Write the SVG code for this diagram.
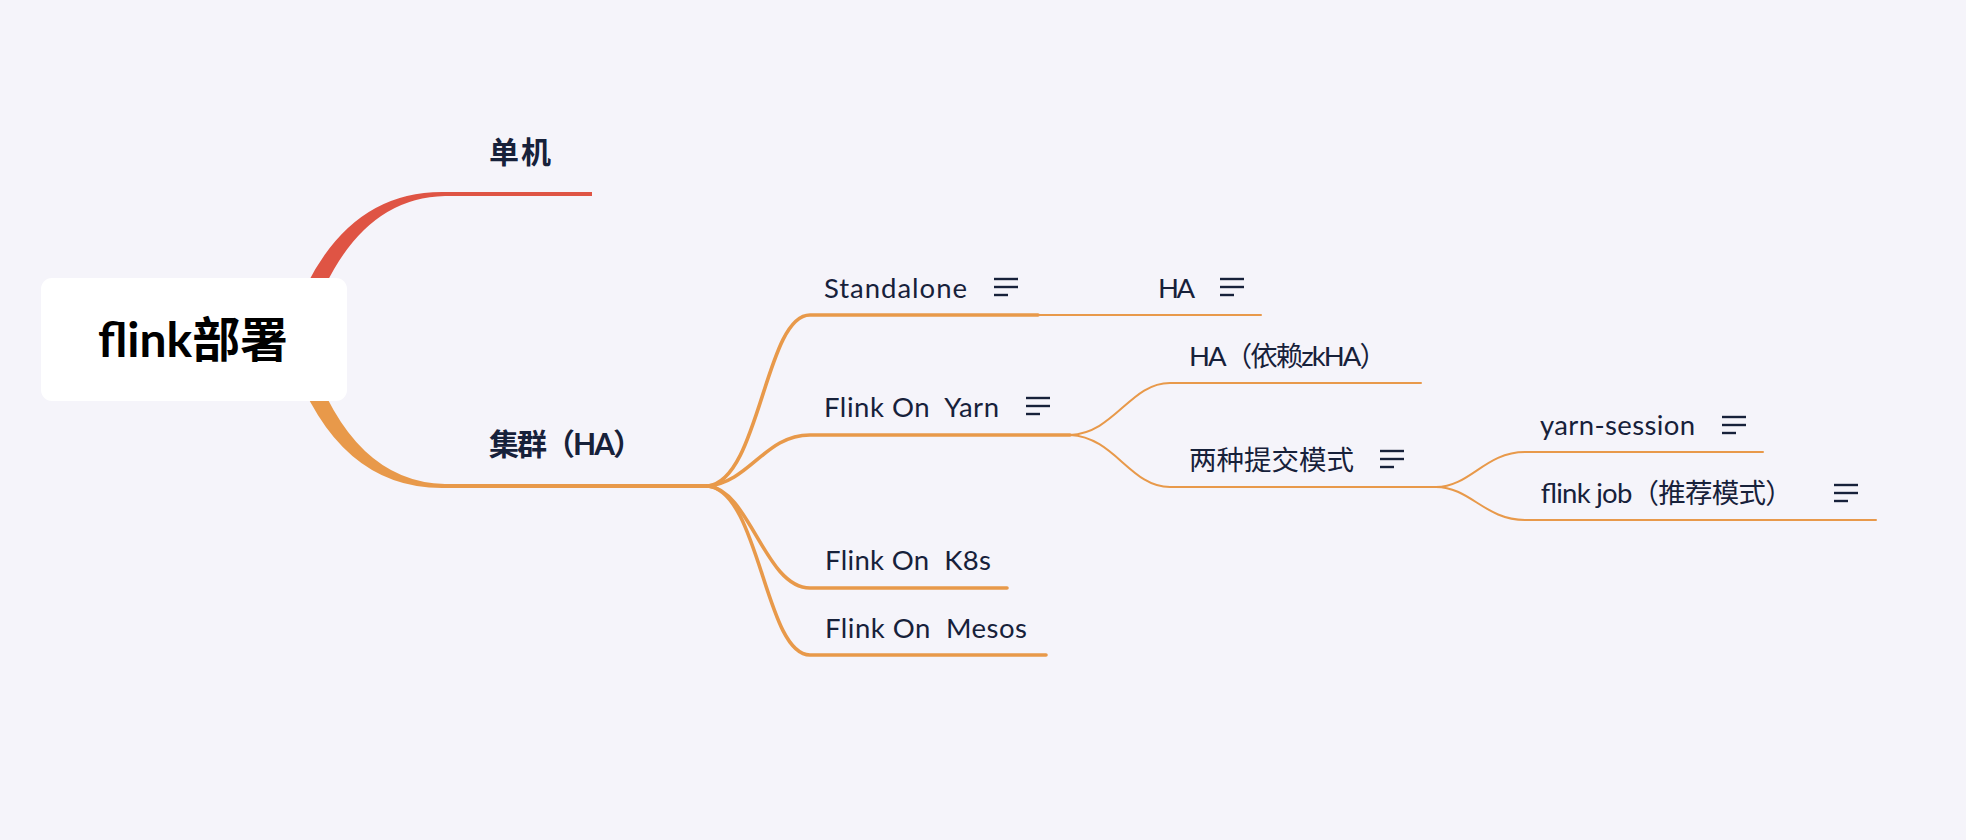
<svg xmlns="http://www.w3.org/2000/svg" width="1966" height="840" viewBox="0 0 1966 840">
<style>
.t{font-family:"Lato","Noto Sans CJK SC",sans-serif;font-size:27.5px;fill:#17213a;white-space:pre}
.m{font-family:"Lato","Noto Sans CJK SC",sans-serif;font-size:30px;font-weight:700;fill:#17213a;white-space:pre}
.r{font-family:"Lato","Noto Sans CJK SC",sans-serif;font-size:48px;font-weight:700;fill:#000}
.c2{fill:none;stroke:#E8994A;stroke-width:3.6;stroke-linecap:round}
.c3{fill:none;stroke:#E8994A;stroke-width:2;stroke-linecap:round}
.ic{stroke:#17213a;stroke-width:2.4}
</style>
<defs>
<g id="note">
<line class="ic" x1="0" y1="0" x2="24" y2="0"/>
<line class="ic" x1="0" y1="8" x2="24" y2="8"/>
<line class="ic" x1="0" y1="16" x2="14" y2="16"/>
</g>
</defs>
<rect width="1966" height="840" fill="#F5F4FA"/>
<g id="connectors">
<path d="M 291 322 Q 338 190 445 192 L 592 192 L 592 196 L 445 196 Q 352 198 309 326 Z" fill="#DF5444"/>
<path d="M 291 358 Q 338 490 445 488 L 708 488 L 708 484 L 445 484 Q 352 482 309 354 Z" fill="#E8994A"/>
<path class="c2" d="M 708 486 C 760 480 765 315 810 315 L 1038 315"/>
<path class="c2" d="M 708 486 C 750 482 765 435 810 435 L 1070 435"/>
<path class="c2" d="M 708 486 C 750 490 765 588 810 588 L 1007 588"/>
<path class="c2" d="M 708 486 C 760 492 765 655 810 655 L 1046 655"/>
<path class="c3" d="M 1038 315 L 1261 315"/>
<path class="c3" d="M 1070 435 C 1115 433 1130 383 1170 383 L 1421 383"/>
<path class="c3" d="M 1070 435 C 1115 437 1130 487 1170 487 L 1436 487"/>
<path class="c3" d="M 1436 487 C 1470 487 1485 452 1525 452 L 1763 452"/>
<path class="c3" d="M 1436 487 C 1470 487 1485 520 1525 520 L 1876 520"/>
</g>
<g id="root">
<rect x="41" y="278" width="306" height="123" rx="11" fill="#FFFFFF"/>
<text class="r" x="98" y="357" textLength="190" lengthAdjust="spacingAndGlyphs">flink部署</text>
</g>
<g id="n-standalone-machine">
<text class="m" x="489" y="163" textLength="62">单机</text>
</g>
<g id="n-cluster">
<text class="m" x="489" y="455" textLength="154">集群（HA）</text>
</g>
<g id="n-standalone">
<text class="t" x="824" y="298" textLength="143">Standalone</text>
<use href="#note" x="994" y="279"/>
</g>
<g id="n-standalone-ha">
<text class="t" x="1158" y="298" textLength="37">HA</text>
<use href="#note" x="1220" y="279"/>
</g>
<g id="n-yarn">
<text class="t" x="824" y="417" textLength="175">Flink On  Yarn</text>
<use href="#note" x="1026" y="398"/>
</g>
<g id="n-yarn-ha">
<text class="t" x="1189" y="366" textLength="198">HA（依赖zkHA）</text>
</g>
<g id="n-submit">
<text class="t" x="1189" y="470" textLength="165">两种提交模式</text>
<use href="#note" x="1380" y="451"/>
</g>
<g id="n-yarn-session">
<text class="t" x="1540" y="435" textLength="155">yarn-session</text>
<use href="#note" x="1722" y="417"/>
</g>
<g id="n-flink-job">
<text class="t" x="1540" y="503" textLength="252">flink job（推荐模式）</text>
<use href="#note" x="1834" y="485"/>
</g>
<g id="n-k8s">
<text class="t" x="825" y="570" textLength="166">Flink On  K8s</text>
</g>
<g id="n-mesos">
<text class="t" x="825" y="638" textLength="202">Flink On  Mesos</text>
</g>
</svg>
